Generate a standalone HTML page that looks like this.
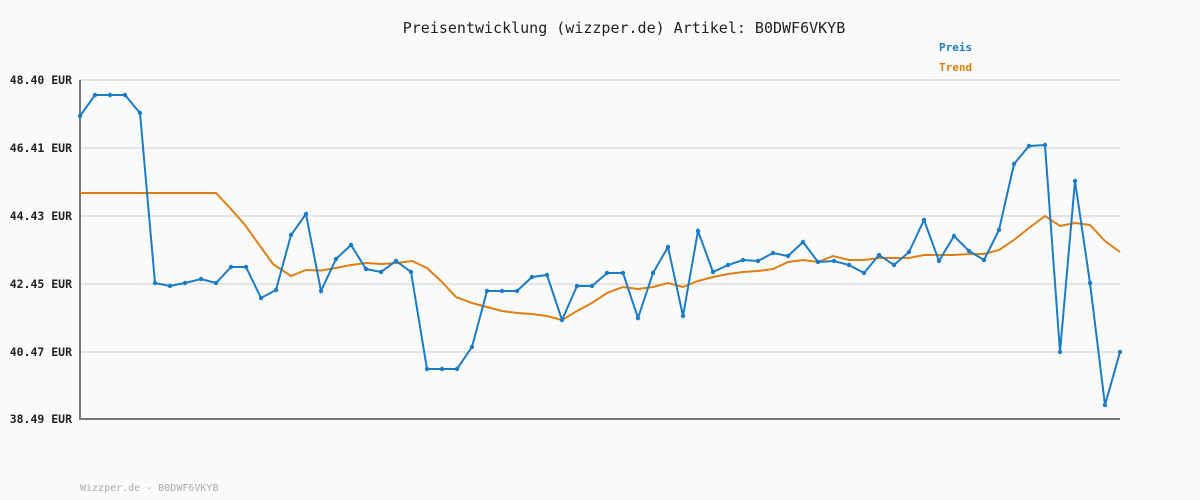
<!DOCTYPE html>
<html><head><meta charset="utf-8"><style>
body{margin:0;background:#fafafa;}
svg{display:block;font-family:"DejaVu Sans Mono","Liberation Mono",monospace;}
</style></head><body>
<svg width="1200" height="500" viewBox="0 0 1200 500">
<rect width="1200" height="500" fill="#fafafa"/>
<text x="624" y="33" text-anchor="middle" font-size="15" fill="#222">Preisentwicklung (wizzper.de) Artikel: B0DWF6VKYB</text>
<text x="939" y="51" font-size="11" font-weight="bold" fill="#1a7cc6">Preis</text>
<text x="939" y="71" font-size="11" font-weight="bold" fill="#e07f10">Trend</text>
<g stroke="#e4e4e4" stroke-width="2">
<line x1="80" y1="80" x2="1120" y2="80"/><line x1="80" y1="148" x2="1120" y2="148"/>
<line x1="80" y1="216" x2="1120" y2="216"/><line x1="80" y1="284" x2="1120" y2="284"/>
<line x1="80" y1="352" x2="1120" y2="352"/>
</g>
<g font-size="11.5" fill="#222" text-anchor="end" font-weight="bold">
<text x="72" y="84">48.40 EUR</text><text x="72" y="152">46.41 EUR</text>
<text x="72" y="220">44.43 EUR</text><text x="72" y="288">42.45 EUR</text>
<text x="72" y="356">40.47 EUR</text><text x="72" y="423">38.49 EUR</text>
</g>
<line x1="80" y1="419" x2="1120" y2="419" stroke="#777" stroke-width="2"/>
<line x1="80" y1="80" x2="80" y2="420" stroke="#777" stroke-width="2"/>
<polyline fill="none" stroke="#e07f10" stroke-width="2" points="80,193 216,193 231,209 245,225 273,264 291,276 306,270 321,270.5 336,268 351,265 366,263 381,264 397,263 412,261 427,268 441,281 456,297 472,303 487,307 502,311 517,313 532,314 547,316 562,320 577,311 592,303 607,293 623,287 638,289 653,287 668,283 683,287 698,281 713,277 728,274 743,272 758,271 773,269 788,262 803,260 818,262 833,256 849,260 864,260 879,258 894,258 909,258 924,255 939,255 954,255 969,254 984,254 999,250 1014,240 1029,228 1045,216 1060,226 1075,223 1090,225 1105,241 1120,252"/>
<polyline id="p" fill="none" stroke="#1a7cc6" stroke-width="2" points="80,116 95,95 110,95 125,95 140,113 155,283 170,286 185,283 201,279 216,283 231,267 246,267 261,298 276,290 291,235 306,214 321,291 336,259 351,245 366,269 381,272 396,261 411,272 427,369 442,369 457,369 472,347 487,291 502,291 517,291 532,277 547,275 562,320 577,286 592,286 607,273 623,273 638,318 653,273 668,247 683,316 698,231 713,272 728,265 743,260 758,261 773,253 788,256 803,242 818,262 834,261 849,265 864,273 879,255 894,265 909,252 924,220 939,261 954,236 969,251 984,260 999,230 1014,164 1029,146 1045,145 1060,352 1075,181 1090,283 1105,405 1120,352"/>
<g fill="#1a7cc6" id="dots"></g>
<text x="80" y="491" font-size="10" fill="#aaa">Wizzper.de - B0DWF6VKYB</text>
</svg>
<script>
var pts=document.getElementById('p').getAttribute('points').trim().split(/\s+/);
var g=document.getElementById('dots'),s='';
pts.forEach(function(p){var a=p.split(',');s+='<circle cx="'+a[0]+'" cy="'+a[1]+'" r="2.2"/>';});
g.innerHTML=s;
</script>
</body></html>
